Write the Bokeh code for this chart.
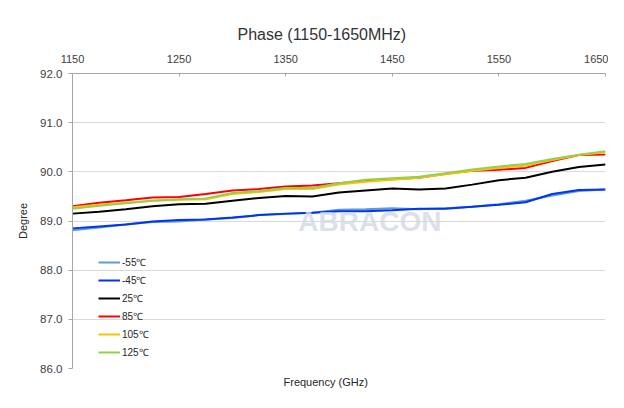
from bokeh.plotting import figure
from bokeh.models import (FixedTicker, NumeralTickFormatter, Legend, LegendItem,
                          Title, Range1d, Label)
from bokeh.embed import file_html
from bokeh.resources import INLINE

freq = [1150, 1175, 1200, 1225, 1250, 1275, 1300, 1325, 1350, 1375, 1400,
        1425, 1450, 1475, 1500, 1525, 1550, 1575, 1600, 1625, 1650]

t_m55 = [88.81, 88.87, 88.93, 88.98, 88.99, 89.03, 89.06, 89.12, 89.14, 89.17, 89.23,
         89.24, 89.26, 89.24, 89.26, 89.29, 89.34, 89.41, 89.52, 89.61, 89.64]
t_m45 = [88.85, 88.89, 88.93, 88.99, 89.02, 89.03, 89.07, 89.12, 89.15, 89.17, 89.20,
         89.20, 89.22, 89.25, 89.25, 89.29, 89.33, 89.38, 89.55, 89.63, 89.64]
t_25 = [89.15, 89.19, 89.24, 89.30, 89.34, 89.35, 89.41, 89.47, 89.51, 89.50, 89.58,
        89.62, 89.66, 89.64, 89.66, 89.74, 89.83, 89.88, 90.00, 90.10, 90.15]
t_85 = [89.30, 89.37, 89.42, 89.48, 89.49, 89.55, 89.62, 89.65, 89.70, 89.72, 89.77,
        89.82, 89.85, 89.88, 89.96, 90.02, 90.04, 90.08, 90.22, 90.34, 90.35]
t_105 = [89.28, 89.33, 89.37, 89.41, 89.43, 89.44, 89.55, 89.59, 89.65, 89.65, 89.74,
         89.80, 89.84, 89.88, 89.95, 90.02, 90.08, 90.13, 90.24, 90.34, 90.40]
t_125 = [89.25, 89.31, 89.36, 89.41, 89.44, 89.46, 89.57, 89.61, 89.67, 89.67, 89.77,
         89.84, 89.87, 89.90, 89.97, 90.05, 90.11, 90.16, 90.26, 90.35, 90.42]

labels = ["-55\u2103", "-45\u2103", "25\u2103", "85\u2103", "105\u2103", "125\u2103"]
series = [t_m55, t_m45, t_25, t_85, t_105, t_125]
colors = ["#5B9BD5", "#0033F5", "#000000", "#FF0000", "#FFC000", "#92D050"]

x_ticks = [1150, 1250, 1350, 1450, 1550, 1650]
y_ticks = [86, 87, 88, 89, 90, 91, 92]

FONT = "Liberation Sans"

p = figure(width=608, height=392, output_backend="svg", toolbar_location=None,
           x_axis_location="above", x_range=Range1d(1150, 1650), y_range=Range1d(86, 92),
           min_border_left=72, min_border_right=3, min_border_top=73, min_border_bottom=24)

p.title.text = "Phase (1150-1650MHz)"
p.title.align = "left"
p.title.offset = 165
p.title.standoff = 17
p.title.text_font = FONT
p.title.text_font_size = "16px"
p.title.text_font_style = "normal"
p.title.text_color = "#333333"

p.outline_line_color = None
p.background_fill_color = "white"
p.border_fill_color = "white"

xa = p.xaxis[0]
xa.ticker = FixedTicker(ticks=x_ticks)
xa.axis_line_color = "#A6A6A6"
xa.major_tick_line_color = "#A6A6A6"
xa.major_tick_in = 3
xa.major_tick_out = 0
xa.minor_tick_line_color = None
xa.major_label_text_font = FONT
xa.major_label_text_font_size = "11px"
xa.major_label_text_color = "#404040"
xa.major_label_standoff = 11

ya = p.yaxis[0]
ya.ticker = FixedTicker(ticks=y_ticks)
ya.formatter = NumeralTickFormatter(format="0.0")
ya.axis_line_color = "#A6A6A6"
ya.major_tick_line_color = "#A6A6A6"
ya.major_tick_in = 0
ya.major_tick_out = 4
ya.minor_tick_line_color = None
ya.major_label_text_font = FONT
ya.major_label_text_font_size = "11.5px"
ya.major_label_text_color = "#404040"
ya.major_label_standoff = 6
ya.axis_label = "Degree"
ya.axis_label_text_font = FONT
ya.axis_label_text_font_size = "11px"
ya.axis_label_text_font_style = "normal"
ya.axis_label_text_color = "#262626"
ya.axis_label_standoff = 8

p.xgrid.grid_line_color = None
p.ygrid.grid_line_color = "#D9D9D9"
p.ygrid.ticker = FixedTicker(ticks=y_ticks)

wm = Label(x=1429, y=88.98, text="ABRACON", text_font=FONT, text_font_size="28px",
           text_font_style="bold", text_color="#D3D8E5", text_alpha=0.8,
           text_align="center", text_baseline="middle")
p.add_layout(wm)

items = []
for lab, ys, c in zip(labels, series, colors):
    r = p.line(freq, ys, line_color=c, line_width=2)
    items.append(LegendItem(label=lab, renderers=[r]))

leg = Legend(items=items, location=(26, 9), background_fill_alpha=0,
             border_line_color=None, padding=0, margin=0, spacing=4,
             glyph_height=14, label_height=14, glyph_width=22,
             label_text_font=FONT, label_text_font_size="10px",
             label_text_color="#262626", label_standoff=2)
p.add_layout(leg)

xl = Title(text="Frequency (GHz)", align="left", text_font=FONT,
           text_font_size="11px", text_font_style="normal", text_color="#262626",
           offset=211)
p.add_layout(xl, "below")

open("out.html", "w").write(file_html(p, INLINE))
